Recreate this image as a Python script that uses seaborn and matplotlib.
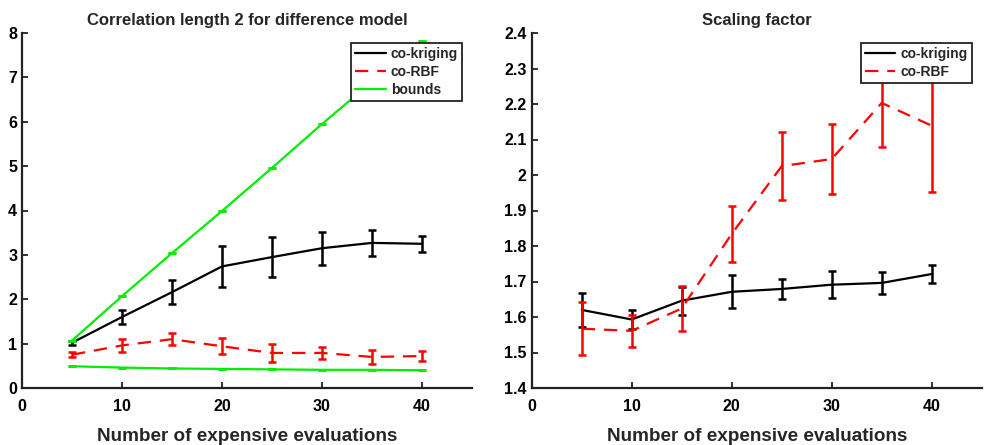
import matplotlib
matplotlib.use('Agg')
import matplotlib.pyplot as plt
import seaborn as sns
import pandas as pd

# number of expensive evaluations
n_eval = [5, 10, 15, 20, 25, 30, 35, 40]

# correlation length 2, difference model
corr_kriging = [1.02, 1.60, 2.16, 2.74, 2.95, 3.15, 3.27, 3.25]
corr_kriging_err = [0.05, 0.16, 0.27, 0.46, 0.45, 0.37, 0.29, 0.18]
corr_rbf = [0.75, 0.96, 1.10, 0.94, 0.79, 0.79, 0.70, 0.72]
corr_rbf_err = [0.06, 0.14, 0.13, 0.18, 0.21, 0.13, 0.16, 0.11]
bound_upper = [1.07, 2.07, 3.04, 3.99, 4.96, 5.95, 6.90, 7.82]
bound_lower = [0.49, 0.46, 0.44, 0.43, 0.42, 0.41, 0.41, 0.40]

# scaling factor
scale_kriging = [1.620, 1.593, 1.646, 1.671, 1.679, 1.691, 1.696, 1.721]
scale_kriging_err = [0.048, 0.028, 0.039, 0.046, 0.027, 0.038, 0.032, 0.026]
scale_rbf = [1.567, 1.561, 1.624, 1.834, 2.025, 2.045, 2.203, 2.139]
scale_rbf_err = [0.074, 0.045, 0.064, 0.078, 0.096, 0.098, 0.124, 0.187]

sns.set_style('ticks')
plt.rcParams['font.family'] = ['Liberation Sans', 'DejaVu Sans']
plt.rcParams['font.weight'] = 'bold'
plt.rcParams['xtick.direction'] = 'in'
plt.rcParams['ytick.direction'] = 'in'

BLACK = '#000000'
RED = '#ff0000'
GREEN = '#00ee00'

fig = plt.figure(figsize=(9.84, 4.45), dpi=100)
ax1 = fig.add_axes([22 / 984, 57 / 445, 450 / 984, 355 / 445])
ax2 = fig.add_axes([531.7 / 984, 57 / 445, 450 / 984, 355 / 445])


def draw(ax, series, ylim, yticks, title):
    rows = []
    for name, vals, err, color, dash in series:
        for x, y in zip(n_eval, vals):
            rows.append({'n': x, 'val': y, 'series': name})
    df = pd.DataFrame(rows)
    for name, vals, err, color, dash in series:
        sub = df[df['series'] == name]
        sns.lineplot(data=sub, x='n', y='val', ax=ax, color=color, linewidth=1.6,
                     label=name, legend=False)
        if dash:
            ax.lines[-1].set_dashes([6, 4])
        ax.errorbar(n_eval, vals, yerr=err if err is not None else [0] * len(vals),
                    fmt='none', ecolor=color, elinewidth=1.8, capsize=3, capthick=1.8)
    ax.set_xlim(0, 45)
    ax.set_ylim(*ylim)
    ax.set_xticks([0, 10, 20, 30, 40])
    ax.set_yticks(yticks)
    ax.set_yticklabels([f'{v:g}' for v in yticks])
    ax.tick_params(labelsize=11.5, width=1.3, length=4, colors='#222222', labelcolor='black')
    ax.tick_params(axis='x', pad=8)
    for s in ['top', 'right']:
        ax.spines[s].set_visible(False)
    for s in ['left', 'bottom']:
        ax.spines[s].set_linewidth(1.6)
        ax.spines[s].set_color('#222222')
    ax.set_title(title, fontsize=12, fontweight='bold', pad=6)
    ax.set_xlabel('Number of expensive evaluations', fontsize=13.6, fontweight='bold', labelpad=10)
    ax.set_ylabel('')
    handles = [l for l in ax.lines if not l.get_label().startswith('_')]
    leg = ax.legend(handles=handles, loc='upper right',
                    bbox_to_anchor=(1 - 10 / 450, 1 - 10 / 355), borderaxespad=0,
                    fontsize=10, frameon=True, fancybox=False, framealpha=1,
                    handlelength=2.2, labelspacing=0.28, borderpad=0.3, handletextpad=0.35)
    leg.get_frame().set_edgecolor('#222222')
    leg.get_frame().set_linewidth(1.3)
    leg.set_zorder(10)


draw(ax1, [
    ('co-kriging', corr_kriging, corr_kriging_err, BLACK, False),
    ('co-RBF', corr_rbf, corr_rbf_err, RED, True),
    ('bounds', bound_upper, None, GREEN, False),
    ('_bounds_low', bound_lower, None, GREEN, False),
], (0, 8), [0, 1, 2, 3, 4, 5, 6, 7, 8],
    'Correlation length 2 for difference model')

draw(ax2, [
    ('co-kriging', scale_kriging, scale_kriging_err, BLACK, False),
    ('co-RBF', scale_rbf, scale_rbf_err, RED, True),
], (1.4, 2.4), [1.4, 1.5, 1.6, 1.7, 1.8, 1.9, 2.0, 2.1, 2.2, 2.3, 2.4],
    'Scaling factor')

fig.savefig('out.png', dpi=100)
